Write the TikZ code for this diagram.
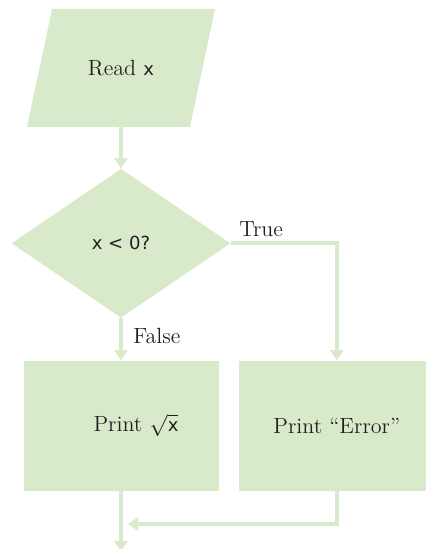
\documentclass[tikz,border=0pt]{standalone}
\usepackage{fontspec}
\newfontfamily\codefont[Scale=0.82]{DejaVu Sans}
\usepackage{tikz}
\usetikzlibrary{shapes.geometric, arrows.meta, positioning}
\definecolor{flowgreen}{HTML}{D9EACB}
\definecolor{inkgray}{HTML}{231F20}

\begin{document}
\begin{tikzpicture}[
        io/.style={trapezium, trapezium left angle=78, trapezium right angle=102, trapezium stretches body=true, fill=flowgreen, minimum width=94pt, text height=7.6pt, text depth=0pt, inner ysep=25.7pt, font=\fontsize{11}{13}\selectfont, text=inkgray},
        decision/.style={diamond, fill=flowgreen, minimum width=109.5pt, minimum height=74.5pt, inner sep=0pt, font=\fontsize{11}{13}\selectfont, text=inkgray},
        process/.style={rectangle, fill=flowgreen, minimum width=97.5pt, minimum height=65pt, font=\fontsize{11}{13}\selectfont, text=inkgray},
        branch/.style={inner sep=0pt, font=\fontsize{11}{13}\selectfont, text=inkgray},
        flow/.style={draw=flowgreen, line width=2pt, -{Triangle[width=6.5pt, length=5pt]}}
    ]
        \useasboundingbox (0,0) rectangle (213pt,-274.5pt);

        
        \node[io] (readx) at (60.5pt,-34pt) {Read {\codefont x}};
        \node[decision, below=20.5pt of readx] (test) {\codefont x < 0?};

        
        \node[process, below=21pt of test] (printsqrt) {\hspace*{15pt}Print $\sqrt{\hbox{\codefont x}}$};
        \node[process, right=10pt of printsqrt] (printerr) {Print ``Error''};

        
        \draw[flow] (readx.south) -- (test.north);
        \draw[flow] (test.south) -- (printsqrt.north);
        \draw[flow] (test.east) -| (printerr.north);
        \node[branch, anchor=base west] (truelbl) at ([xshift=4pt, yshift=3.5pt]test.east) {True};
        \node[branch, anchor=base west] (falselbl) at ([xshift=6pt, yshift=-12.5pt]test.south) {False};

        
        \coordinate[below=30pt of printsqrt.south] (exit);
        \coordinate[below=16.5pt of printsqrt.south, xshift=3.5pt] (join);
        \draw[flow] (printsqrt.south) -- (exit);
        \draw[flow] (printerr.south) |- (join);

    \end{tikzpicture}
\end{document}
